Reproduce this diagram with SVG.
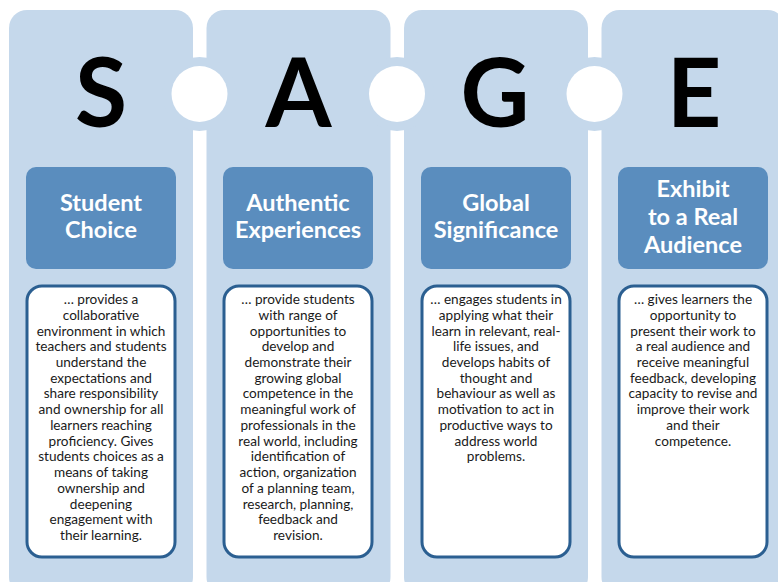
<svg xmlns="http://www.w3.org/2000/svg" width="778" height="582" viewBox="0 0 778 582">
<style>
.col{fill:#c5d8eb}
.hdr{fill:#5a8dbe}
.box{fill:#ffffff;stroke:#2b5f91;stroke-width:3}
.big{font-family:Lato,"Open Sans",sans-serif;font-weight:bold;font-size:95px;fill:#000;text-anchor:middle}
.ht{font-family:Lato,"Open Sans",sans-serif;font-weight:bold;font-size:23.5px;fill:#fff;text-anchor:middle}
.bt{font-family:Lato,"Open Sans",sans-serif;font-size:13.6px;fill:#1a1a1a;text-anchor:middle}
</style>
<rect width="778" height="582" fill="#ffffff"/>
<g id="col-S">
<rect class="col" x="9" y="10" width="184" height="585" rx="18"/>
<text class="big" x="101" y="127">S</text>
<rect class="hdr" x="26" y="167" width="150" height="102" rx="10"/>
<text class="ht" x="101" y="211">Student</text>
<text class="ht" x="101" y="237.5">Choice</text>
<rect class="box" x="27" y="286" width="148" height="271" rx="15"/>
<text class="bt" x="101" y="304">… provides a</text>
<text class="bt" x="101" y="319.7">collaborative</text>
<text class="bt" x="101" y="335.5">environment in which</text>
<text class="bt" x="101" y="351.2">teachers and students</text>
<text class="bt" x="101" y="366.9">understand the</text>
<text class="bt" x="101" y="382.7">expectations and</text>
<text class="bt" x="101" y="398.4">share responsibility</text>
<text class="bt" x="101" y="414.1">and ownership for all</text>
<text class="bt" x="101" y="429.8">learners reaching</text>
<text class="bt" x="101" y="445.6">proficiency. Gives</text>
<text class="bt" x="101" y="461.3">students choices as a</text>
<text class="bt" x="101" y="477">means of taking</text>
<text class="bt" x="101" y="492.8">ownership and</text>
<text class="bt" x="101" y="508.5">deepening</text>
<text class="bt" x="101" y="524.2">engagement with</text>
<text class="bt" x="101" y="540">their learning.</text>
</g>
<g id="col-A">
<rect class="col" x="206.5" y="10" width="184" height="585" rx="18"/>
<text class="big" x="298.5" y="127">A</text>
<rect class="hdr" x="223" y="167" width="150" height="102" rx="10"/>
<text class="ht" x="298" y="211">Authentic</text>
<text class="ht" x="298" y="238">Experiences</text>
<rect class="box" x="224" y="286" width="148" height="271" rx="15"/>
<text class="bt" x="298" y="304">… provide students</text>
<text class="bt" x="298" y="319.7">with range of</text>
<text class="bt" x="298" y="335.5">opportunities to</text>
<text class="bt" x="298" y="351.2">develop and</text>
<text class="bt" x="298" y="366.9">demonstrate their</text>
<text class="bt" x="298" y="382.7">growing global</text>
<text class="bt" x="298" y="398.4">competence in the</text>
<text class="bt" x="298" y="414.1">meaningful work of</text>
<text class="bt" x="298" y="429.8">professionals in the</text>
<text class="bt" x="298" y="445.6">real world, including</text>
<text class="bt" x="298" y="461.3">identification of</text>
<text class="bt" x="298" y="477">action, organization</text>
<text class="bt" x="298" y="492.8">of a planning team,</text>
<text class="bt" x="298" y="508.5">research, planning,</text>
<text class="bt" x="298" y="524.2">feedback and</text>
<text class="bt" x="298" y="540">revision.</text>
</g>
<g id="col-G">
<rect class="col" x="404" y="10" width="184" height="585" rx="18"/>
<text class="big" x="495" y="127">G</text>
<rect class="hdr" x="421" y="167" width="150" height="102" rx="10"/>
<text class="ht" x="496" y="211">Global</text>
<text class="ht" x="496" y="237.5">Significance</text>
<rect class="box" x="422" y="286" width="148" height="271" rx="15"/>
<text class="bt" x="496" y="304">… engages students in</text>
<text class="bt" x="496" y="319.7">applying what their</text>
<text class="bt" x="496" y="335.5">learn in relevant, real-</text>
<text class="bt" x="496" y="351.2">life issues, and</text>
<text class="bt" x="496" y="366.9">develops habits of</text>
<text class="bt" x="496" y="382.7">thought and</text>
<text class="bt" x="496" y="398.4">behaviour as well as</text>
<text class="bt" x="496" y="414.1">motivation to act in</text>
<text class="bt" x="496" y="429.8">productive ways to</text>
<text class="bt" x="496" y="445.6">address world</text>
<text class="bt" x="496" y="461.3">problems.</text>
</g>
<g id="col-E">
<rect class="col" x="601.5" y="10" width="184" height="585" rx="18"/>
<text class="big" x="694" y="127">E</text>
<rect class="hdr" x="618" y="167" width="150" height="102" rx="10"/>
<text class="ht" x="693" y="197">Exhibit</text>
<text class="ht" x="693" y="224.5">to a Real</text>
<text class="ht" x="693" y="252.5">Audience</text>
<rect class="box" x="619" y="286" width="148" height="271" rx="15"/>
<text class="bt" x="693" y="304">… gives learners the</text>
<text class="bt" x="693" y="319.7">opportunity to</text>
<text class="bt" x="693" y="335.5">present their work to</text>
<text class="bt" x="693" y="351.2">a real audience and</text>
<text class="bt" x="693" y="366.9">receive meaningful</text>
<text class="bt" x="693" y="382.7">feedback, developing</text>
<text class="bt" x="693" y="398.4">capacity to revise and</text>
<text class="bt" x="693" y="414.1">improve their work</text>
<text class="bt" x="693" y="429.8">and their</text>
<text class="bt" x="693" y="445.6">competence.</text>
</g>
<g id="connectors">
<circle cx="199.5" cy="94" r="37" class="col"/>
<circle cx="199.5" cy="94" r="28" fill="#ffffff"/>
<circle cx="397" cy="94" r="37" class="col"/>
<circle cx="397" cy="94" r="28" fill="#ffffff"/>
<circle cx="594.5" cy="94" r="37" class="col"/>
<circle cx="594.5" cy="94" r="28" fill="#ffffff"/>
</g>
</svg>
